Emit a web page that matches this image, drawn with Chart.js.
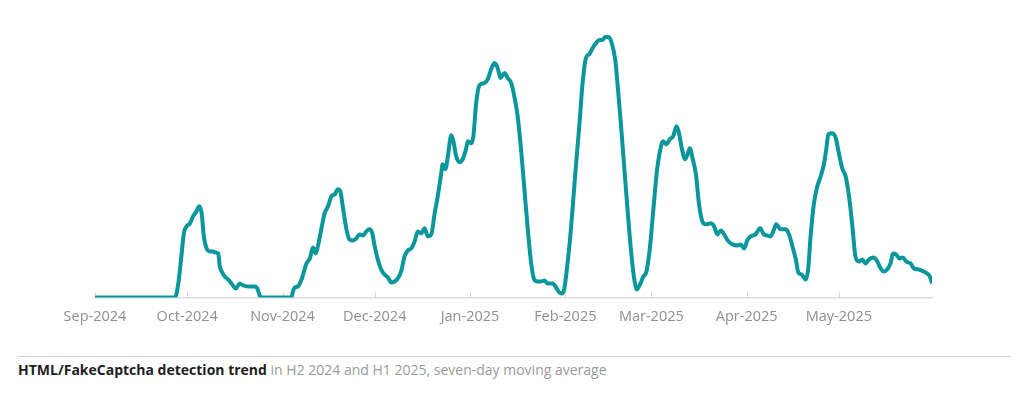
<!DOCTYPE html>
<html>
<head>
<meta charset="utf-8">
<script src="https://cdn.jsdelivr.net/npm/chart.js@4.4.1/dist/chart.umd.min.js"></script>
<style>
  body { margin: 0; background: #fff; width: 1024px; height: 397px; overflow: hidden; font-family: "Open Sans", sans-serif; }
  #wrap { position: absolute; left: 0; top: 0; width: 1024px; height: 340px; }
  #sep { position: absolute; left: 18px; top: 356px; width: 993px; height: 0; border-top: 1.5px solid #cfcfcf; }
  #caption { position: absolute; left: 18px; top: 360px; font-size: 14px; color: #9a9a9a; white-space: nowrap; }
  #caption b { color: #1e1e1e; font-weight: 700; }
</style>
</head>
<body>
<div id="wrap"><canvas id="trendChart"></canvas></div>
<div id="sep"></div>
<div id="caption"><b>HTML/FakeCaptcha detection trend</b> in H2 2024 and H1 2025, seven-day moving average</div>
<script>
// days counted from 1 Sep 2024
const monthStarts = [0, 30, 61, 91, 122, 153, 181, 212, 242];
const monthLabels = ['Sep-2024', 'Oct-2024', 'Nov-2024', 'Dec-2024', 'Jan-2025', 'Feb-2025', 'Mar-2025', 'Apr-2025', 'May-2025'];

// seven-day moving average
const dayIndex = [
  0, 26, 27.1, 28.2, 28.9, 29.8, 30.9, 31.9, 33, 33.9, 34.7, 35.4, 36.3, 37.4, 38.4, 39, 40.1, 40.6, 41.2, 42.2,
  43.3, 44.4, 45.8, 47.1, 48.2, 49.8, 52, 52.8, 53.6, 54.2, 63.9, 64.4, 65, 66, 67.2, 68.8, 69.9, 70.9, 71.8, 72.5,
  73.6, 74.7, 75.8, 76.9, 78, 79, 79.8, 80.6, 81.8, 82.8, 83.9, 85, 86.1, 87.2, 88.3, 89.3, 90.2, 91, 92, 93.1,
  94.2, 95.3, 96.4, 97.5, 98.5, 99.6, 100.7, 101.8, 102.9, 104, 105, 106.1, 107.2, 108.3, 109.4, 110.5, 111.5, 112.6, 113.1, 114,
  114.8, 115.9, 116.6, 117.5, 118.6, 119.6, 120.7, 121.3, 122.4, 123.1, 124, 125.1, 126.7, 127.8, 128.9, 130, 131, 131.9, 133.2, 134.3,
  135.4, 136.4, 137.5, 138.6, 139.7, 140.8, 141.9, 142.9, 144, 145.1, 146.2, 147.3, 148.9, 150, 150.8, 151.8, 152.7, 153.8, 154.6, 155.4,
  156.5, 157.6, 158.6, 159.7, 160.8, 161.9, 163, 164.1, 165.1, 166, 167.1, 168.2, 169.3, 170, 171.1, 172.2, 173.3, 174.4, 175.4, 176.3,
  177.3, 178.4, 179.4, 180.5, 181.6, 182.7, 183.8, 184.8, 185.9, 187, 188.1, 189.2, 190, 190.9, 192, 192.8, 193.5, 194.4, 195.5, 196.5,
  197.6, 198.7, 200.4, 201.4, 202.5, 203.6, 204.7, 205.8, 207.4, 209, 210.1, 211.2, 212.2, 213.3, 214.9, 216.4, 217.6, 218.7, 219.8, 220.9,
  221.6, 223.1, 224.7, 225.8, 226.9, 228, 228.8, 229.9, 231.2, 232, 232.8, 233.9, 235, 236.1, 237.2, 237.9, 238.6, 239.9, 241, 242,
  243.1, 244.2, 245.3, 246.4, 247.4, 248.5, 249.6, 250.7, 251.8, 253.4, 254.5, 255.6, 256.6, 257.7, 258.8, 259.6, 260.6, 261.7, 262.8, 263.9,
  265.3, 266.4, 268, 269.6, 270.7, 271.6, 272.3
];
const detections = [
  0, 0, 14, 44, 64, 71, 74, 81, 86, 91, 84, 61, 49, 46, 46, 45, 44, 31, 26, 21,
  18, 14, 9, 14, 12, 11, 11, 9, 2, 0, 0, 6, 10, 11, 18, 34, 39, 50, 44, 51,
  68, 84, 91, 101, 103, 108, 106, 91, 68, 58, 57, 59, 63, 62, 66, 68, 64, 51, 38, 28,
  23, 20, 15, 16, 19, 26, 41, 47, 49, 56, 66, 64, 69, 61, 63, 84, 101, 123, 133, 128,
  141, 162, 156, 141, 135, 138, 148, 156, 154, 161, 194, 212, 214, 218, 228, 234, 229, 219, 224, 219,
  214, 201, 181, 148, 108, 68, 34, 18, 16, 16, 17, 14, 14, 10, 6, 4, 9, 36, 60, 90,
  133, 173, 213, 239, 243, 249, 254, 257, 257, 260, 260, 253, 236, 213, 173, 129, 86, 46, 19, 8,
  13, 21, 26, 49, 86, 123, 146, 156, 153, 158, 161, 171, 164, 149, 138, 143, 149, 139, 123, 93,
  76, 73, 74, 71, 63, 67, 63, 57, 53, 52, 53, 49, 57, 61, 63, 69, 63, 62, 61, 68,
  73, 68, 68, 63, 51, 38, 25, 23, 18, 28, 61, 94, 111, 121, 134, 148, 163, 164, 159, 144,
  129, 121, 101, 71, 41, 36, 38, 34, 38, 40, 36, 29, 26, 28, 34, 44, 43, 39, 40, 36,
  34, 29, 28, 26, 24, 21, 14
];

const tickMarks = {
  id: 'tickMarks',
  beforeDatasetsDraw(chart) {
    const x = chart.scales.x;
    const ctx = chart.ctx;
    const bottom = chart.chartArea.bottom;
    ctx.save();
    ctx.strokeStyle = '#d6d6d6';
    ctx.lineWidth = 1;
    x.ticks.forEach(t => {
      const px = Math.round(x.getPixelForValue(t.value)) + 0.5;
      ctx.beginPath();
      ctx.moveTo(px, bottom);
      ctx.lineTo(px, bottom - 5);
      ctx.stroke();
    });
    ctx.restore();
  }
};

const ctx = document.getElementById('trendChart').getContext('2d');
new Chart(ctx, {
  type: 'line',
  data: {
    datasets: [{
      data: dayIndex.map((d, i) => ({ x: d, y: detections[i] })),
      borderColor: '#0a979c',
      borderWidth: 4,
      pointRadius: 0,
      cubicInterpolationMode: 'monotone',
      fill: false
    }]
  },
  options: {
    responsive: true,
    maintainAspectRatio: false,
    devicePixelRatio: 1,
    animation: false,
    layout: { padding: { left: 95, right: 92, top: 27, bottom: 0 } },
    plugins: { legend: { display: false }, tooltip: { enabled: false } },
    scales: {
      x: {
        type: 'linear',
        min: 0,
        max: 272.3,
        afterBuildTicks: scale => { scale.ticks = monthStarts.map(v => ({ value: v })); },
        afterFit: scale => { scale.height = 42.5; },
        grid: { display: true, drawOnChartArea: false, drawTicks: false },
        border: { display: true, color: '#dcdcdc', width: 1.5 },
        ticks: {
          autoSkip: false,
          maxRotation: 0,
          padding: 11,
          color: '#8f8f8f',
          font: { family: 'Open Sans', size: 14.5 },
          callback: v => monthLabels[monthStarts.indexOf(v)]
        }
      },
      y: {
        display: false,
        min: 0,
        max: 270
      }
    }
  },
  plugins: [tickMarks]
});
</script>
</body>
</html>
